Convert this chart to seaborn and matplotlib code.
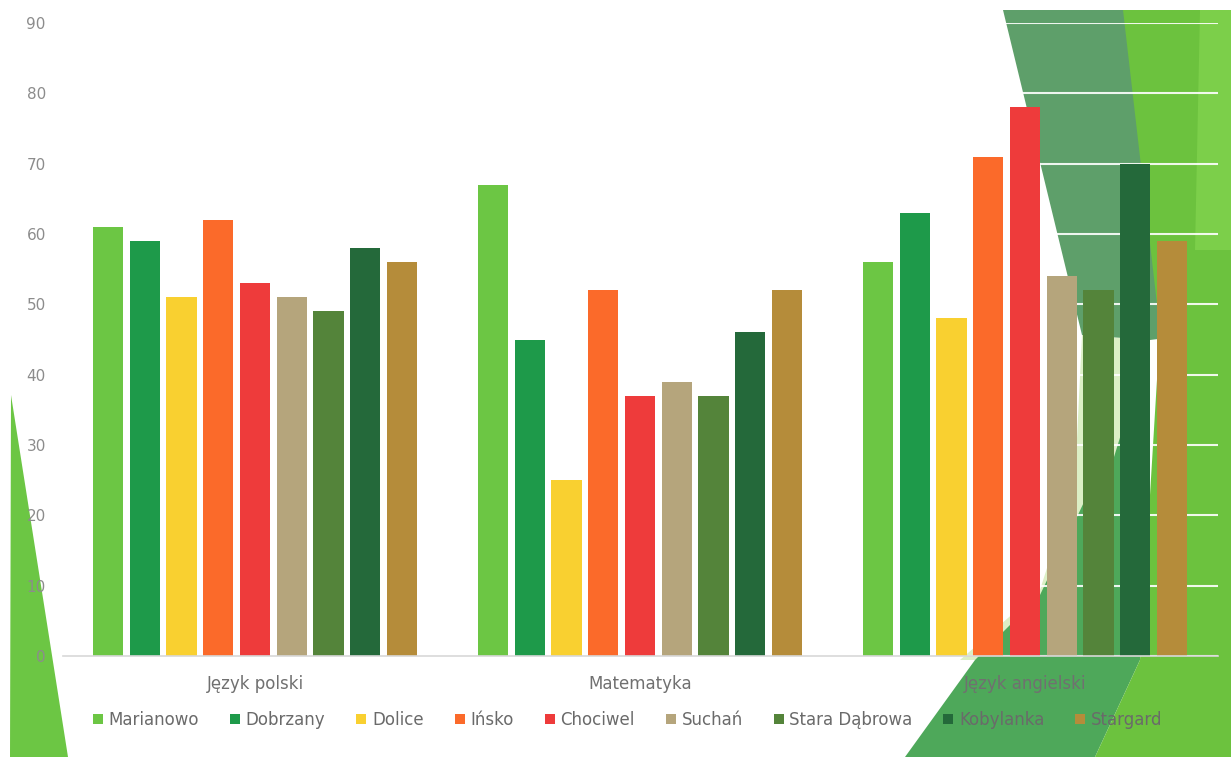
import matplotlib
matplotlib.use("Agg")
import matplotlib.pyplot as plt
from matplotlib.patches import Polygon
import seaborn as sns
import pandas as pd

subjects = ["Język polski", "Matematyka", "Język angielski"]
schools = ["Marianowo", "Dobrzany", "Dolice", "Ińsko", "Chociwel",
           "Suchań", "Stara Dąbrowa", "Kobylanka", "Stargard"]
marianowo = [61, 67, 56]
dobrzany = [59, 45, 63]
dolice = [51, 25, 48]
insko = [62, 52, 71]
chociwel = [53, 37, 78]
suchan = [51, 39, 54]
stara_dabrowa = [49, 37, 52]
kobylanka = [58, 46, 70]
stargard = [56, 52, 59]
yticks = [0, 10, 20, 30, 40, 50, 60, 70, 80, 90]

series = [marianowo, dobrzany, dolice, insko, chociwel,
          suchan, stara_dabrowa, kobylanka, stargard]
colors = ["#6cc644", "#1e9a4a", "#f9d030", "#fb6a2a", "#ee3b3b",
          "#b5a57c", "#54843a", "#24693a", "#b58c3a"]

rows = []
for school, vals in zip(schools, series):
    for subj, v in zip(subjects, vals):
        rows.append({"subject": subj, "school": school, "value": v})
df = pd.DataFrame(rows)

sns.set_theme(style="white")
plt.rcParams["font.family"] = ["DejaVu Sans"]

W, H = 1231, 757
fig = plt.figure(figsize=(W / 100, H / 100), dpi=100)
fig.patch.set_facecolor("white")

def px(pts):
    return [(x / W, 1 - y / H) for x, y in pts]

decor = [
    # pale band below the white wedge
    ([(1082, 335), (1150, 340), (1140, 660), (960, 660), (1040, 590), (1075, 480)], "#dcefc6"),
    # muted green top-right wedge
    ([(1003, 10), (1231, 10), (1231, 330), (1150, 340), (1082, 335)], "#5e9f6a"),
    # medium green lower wedge
    ([(905, 757), (975, 660), (1040, 595), (1085, 500), (1110, 470), (1150, 340), (1140, 660), (1095, 757)], "#4ea85a"),
    # bright green right strip
    ([(1123, 10), (1231, 10), (1231, 757), (1095, 757), (1140, 660), (1160, 330)], "#6cc23e"),
    # lighter strip far right
    ([(1200, 10), (1231, 10), (1231, 250), (1195, 250)], "#7ccf4a"),
    # left triangle
    ([(11, 395), (68, 757), (10, 757)], "#6cc644"),
]
for pts, col in decor:
    fig.patches.append(Polygon(px(pts), closed=True, transform=fig.transFigure,
                               facecolor=col, edgecolor="none", zorder=-10))

ax = fig.add_axes([62.5 / W, 1 - 656 / H, (1217.5 - 62.5) / W, (656 - 23) / H])
ax.set_facecolor("none")

sns.barplot(data=df, x="subject", y="value", hue="school", order=subjects,
            hue_order=schools, palette=colors, width=0.86, gap=0.18,
            saturation=1, ax=ax, legend=True, errorbar=None, linewidth=0)

ax.set_ylim(0, 90)
ax.set_xlim(-0.5, 2.5)
ax.set_yticks(yticks)
ax.set_yticklabels([str(t) for t in yticks])
ax.yaxis.grid(True, color="white", linewidth=1.5, alpha=0.9, zorder=0)
ax.set_axisbelow(True)
ax.set_xlabel("")
ax.set_ylabel("")
for s in ["top", "right", "left"]:
    ax.spines[s].set_visible(False)
ax.spines["bottom"].set_color("#d8d8d8")
ax.spines["bottom"].set_linewidth(1.2)
ax.tick_params(axis="y", length=0, pad=12, labelsize=11, labelcolor="#8c8c8c")
ax.tick_params(axis="x", length=0, pad=14, labelsize=12, labelcolor="#707070")

ax.get_legend().remove()
handles, labels = ax.get_legend_handles_labels()
leg = fig.legend(handles, labels, loc="center", bbox_to_anchor=(0.51, 1 - 720 / H),
                 ncol=9, frameon=False, fontsize=12, handlelength=0.6,
                 handleheight=0.6, handletextpad=0.35, columnspacing=1.85,
                 labelcolor="#6a6a6a")

fig.savefig("out.png", dpi=100, facecolor="white")
